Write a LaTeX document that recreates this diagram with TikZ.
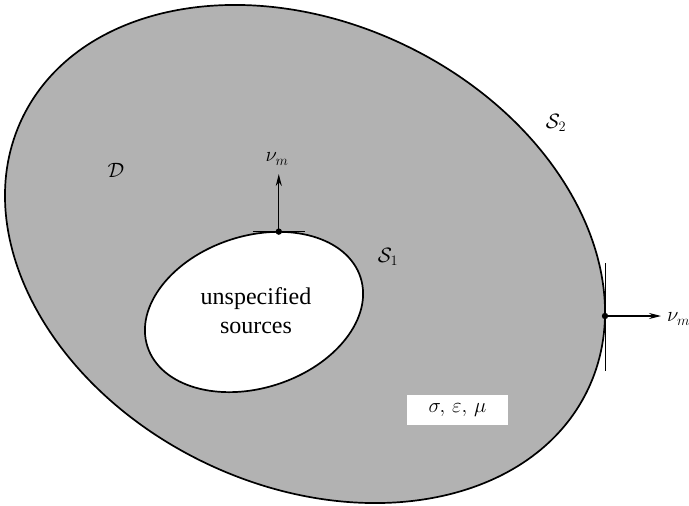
\documentclass[tikz,border=0pt]{standalone}
\usepackage{fontspec}
\setmainfont{Liberation Serif}
\usetikzlibrary{arrows.meta}
\begin{document}
\begin{tikzpicture}[x=1pt,y=-1pt,
  bnd/.style={line width=1.7pt},
  tang/.style={line width=1pt},
  normalarrow/.style={line width=1.1pt,-{Stealth[length=12pt,width=6pt]}},
  lbl/.style={font=\fontsize{22}{26}\selectfont, inner sep=0pt},
  dotmark/.style={fill=black}
]
\useasboundingbox (0,0) rectangle (689,506);
% outer region D bounded by S2
\begin{scope}[shift={(305,254)},rotate=-25.7]
  \draw[bnd, fill=black!30] (0,0) ellipse [x radius=313.7pt, y radius=231.5pt];
\end{scope}
% inner region with sources bounded by S1
\begin{scope}[shift={(254,312)},rotate=18]
  \draw[bnd, fill=white] (0,0) ellipse [x radius=112pt, y radius=76pt];
\end{scope}
\node[font=\fontsize{24}{29}\selectfont, align=center, inner sep=0pt] (src) at (256,311) {unspecified\\sources};

% normal on S1
\coordinate (p1) at (278.8,231.6);
\coordinate (t1) at (278.8,174);
\draw[tang] ([xshift=-26pt]p1) -- ([xshift=26pt]p1);
\draw[normalarrow] (p1) -- (t1);
\fill[dotmark] (p1) circle (3.2pt);
\node[lbl] (nu1) at (277,159) {$\nu_m$};

% normal on S2
\coordinate (p2) at (605,316);
\coordinate (t2) at (661,316);
\draw[tang] ([yshift=53pt]p2) -- ([yshift=-55pt]p2);
\draw[normalarrow] (p2) -- (t2);
\fill[dotmark] (p2) circle (3.2pt);
\node[lbl, anchor=west] (nu2) at (667,319) {$\nu_m$};

% labels
\node[lbl] (D) at (116,170) {$\mathcal{D}$};
\node[lbl] (S1) at (388,257) {$\mathcal{S}_1$};
\node[lbl] (S2) at (556,123) {$\mathcal{S}_2$};
\node[lbl, fill=white, minimum width=101pt, minimum height=30pt] (mat) at (457.5,410) {$\sigma,\,\varepsilon,\,\mu$};
\end{tikzpicture}
\end{document}
